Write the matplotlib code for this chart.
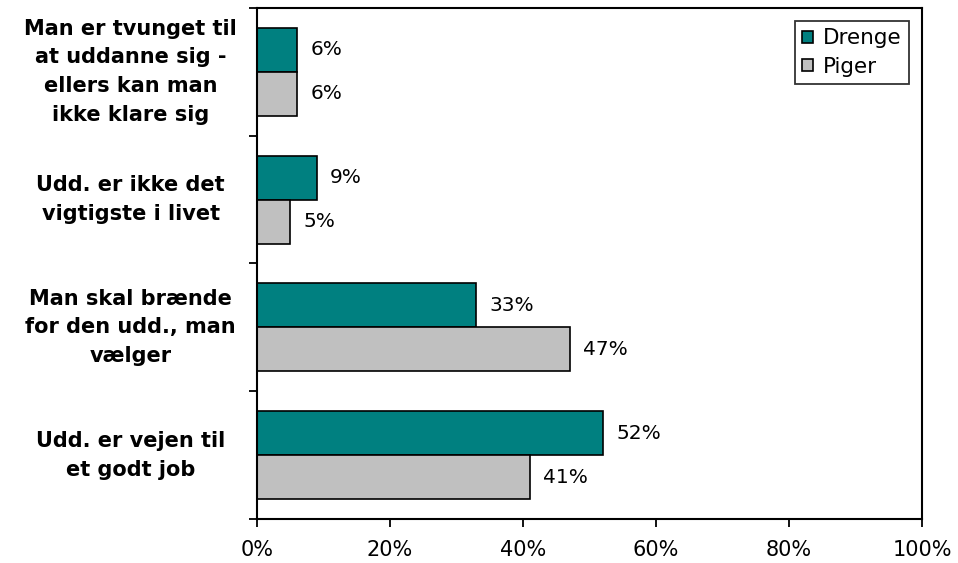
import numpy as np
import matplotlib.pyplot as plt
from matplotlib.ticker import FuncFormatter

# data
categories = [
    "Man er tvunget til\nat uddanne sig -\nellers kan man\nikke klare sig",
    "Udd. er ikke det\nvigtigste i livet",
    "Man skal brænde\nfor den udd., man\nvælger",
    "Udd. er vejen til\net godt job",
]
drenge = [6, 9, 33, 52]
piger = [6, 5, 47, 41]
series_names = ["Drenge", "Piger"]
colors = ["#008080", "#C0C0C0"]

fig = plt.figure(figsize=(9.58, 5.63), dpi=100)
ax = fig.add_axes([0.2683, 0.0782, 0.6941, 0.9076])

n = len(categories)
y = np.arange(n)
h = 0.344

b1 = ax.barh(y - h / 2, drenge, height=h, color=colors[0], edgecolor="black",
             linewidth=1.2, label=series_names[0])
b2 = ax.barh(y + h / 2, piger, height=h, color=colors[1], edgecolor="black",
             linewidth=1.2, label=series_names[1])

for bars, vals in [(b1, drenge), (b2, piger)]:
    for bar, v in zip(bars, vals):
        ax.text(v + 2, bar.get_y() + bar.get_height() / 2, f"{v}%",
                va="center", ha="left", fontsize=14.5)

ax.set_xlim(0, 100)
ax.set_ylim(n - 0.5, -0.5)
ax.set_xticks(np.arange(0, 101, 20))
ax.xaxis.set_major_formatter(FuncFormatter(lambda v, p: f"{v:.0f}%"))
ax.tick_params(axis="x", labelsize=15, length=6, width=1.3, pad=9, direction="out")

# category labels centred between ticks on the left
ax.set_yticks(np.arange(-0.5, n, 1.0))
ax.set_yticklabels([])
ax.tick_params(axis="y", length=6, width=1.3, direction="out")
for i, c in enumerate(categories):
    ax.text(-0.19, i, c, transform=ax.get_yaxis_transform(), ha="center",
            va="center", fontsize=15, fontweight="bold", linespacing=1.55)

for s in ax.spines.values():
    s.set_linewidth(1.5)

leg = ax.legend(loc="upper right", bbox_to_anchor=(0.9805, 0.975), fontsize=15.5,
                frameon=True, fancybox=False, edgecolor="black",
                handlelength=0.5, handleheight=0.5, handletextpad=0.45,
                borderpad=0.35, labelspacing=0.4, borderaxespad=0)
leg.get_frame().set_linewidth(1.3)

plt.savefig("out.png", dpi=100)
